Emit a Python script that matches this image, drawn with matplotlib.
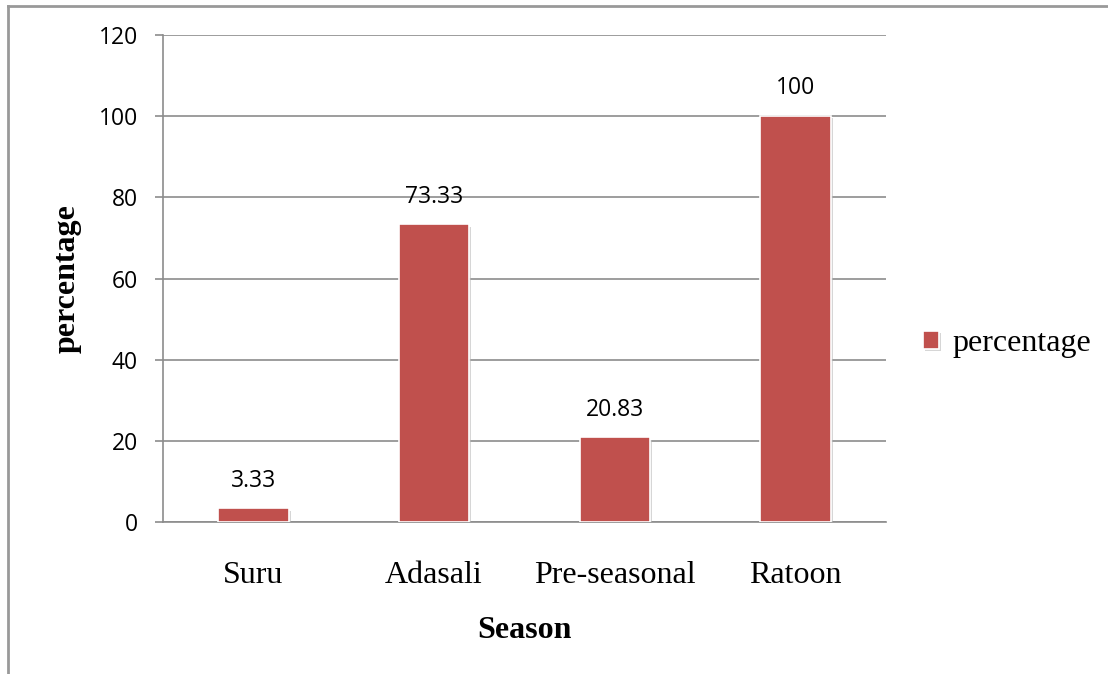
import matplotlib.pyplot as plt
import matplotlib.patheffects as pe
from matplotlib.lines import Line2D

seasons = ["Suru", "Adasali", "Pre-seasonal", "Ratoon"]
percentage = [3.33, 73.33, 20.83, 100]
labels = ["3.33", "73.33", "20.83", "100"]

bar_color = "#C0504D"
grid_color = "#8C8C8C"

fig = plt.figure(figsize=(11.08, 6.74), dpi=100)
ax = fig.add_axes([0.1471, 0.2255, 0.6525, 0.7225])

bars = ax.bar(range(len(seasons)), percentage, width=0.39, color=bar_color,
              edgecolor="white", linewidth=1.2, zorder=3, label="percentage")
for b in bars:
    b.set_path_effects([pe.SimplePatchShadow(offset=(1.5, -1.5), shadow_rgbFace="#bbbbbb", alpha=0.6),
                        pe.Normal()])

for i, (v, t) in enumerate(zip(percentage, labels)):
    ax.annotate(t, (i, v), xytext=(0, 20), textcoords="offset points",
                ha="center", va="center", fontsize=16.5, family="Open Sans")

ax.set_xlim(-0.5, 3.5)
ax.set_ylim(0, 120)
ax.set_yticks(range(0, 121, 20))
ax.set_xticks(range(len(seasons)))
ax.set_xticklabels(seasons, family="Liberation Serif", fontsize=23)
ax.tick_params(axis="x", length=0, pad=28)
ax.tick_params(axis="y", length=6, width=1.2, color=grid_color, pad=12, labelsize=16.5)
for lab in ax.get_yticklabels():
    lab.set_family("Open Sans")

ax.grid(axis="y", color=grid_color, linewidth=1.2, zorder=0)
ax.set_axisbelow(True)
for s in ["top", "right"]:
    ax.spines[s].set_visible(False)
ax.spines["left"].set_color(grid_color)
ax.spines["left"].set_linewidth(1.2)
ax.spines["bottom"].set_color(grid_color)
ax.spines["bottom"].set_linewidth(1.2)

ax.set_ylabel("percentage", family="Liberation Serif", fontsize=23, fontweight="bold", labelpad=12)
ax.set_xlabel("Season", family="Liberation Serif", fontsize=23, fontweight="bold", labelpad=19)

leg = ax.legend(loc="center left", bbox_to_anchor=(1.012, 0.366), frameon=False,
                prop={"family": "Liberation Serif", "size": 23},
                handlelength=0.5, handleheight=0.5, handletextpad=0.4)

# outer frame (top and left edges)
fig.add_artist(Line2D([8 / 1108, 1.0], [1 - 6 / 674, 1 - 6 / 674], color="#999999", linewidth=2))
fig.add_artist(Line2D([8 / 1108, 8 / 1108], [0.0, 1 - 6 / 674], color="#999999", linewidth=2))

fig.savefig("out.png", dpi=100)
